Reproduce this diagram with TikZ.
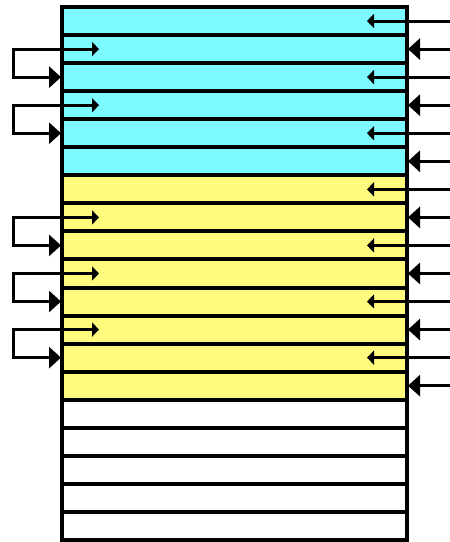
\documentclass[tikz,border=0pt]{standalone}
\usetikzlibrary{arrows.meta}
\definecolor{cellblue}{RGB}{125,250,255}
\definecolor{cellyellow}{RGB}{255,252,125}
\tikzset{
  rowbox/.style={draw=black, line width=4pt, minimum width=345pt, minimum height=28.05pt,
    inner sep=0pt, outer sep=0pt, anchor=north west},
  feedin/.style={line width=3pt, arrows={-Triangle[length=7pt,width=14pt]}},
  feedbig/.style={line width=3pt, arrows={-Triangle[length=12pt,width=21pt]}, shorten >=1pt},
  loopback/.style={line width=3pt, arrows={Triangle[length=7pt,width=14pt]-Triangle[length=12pt,width=21pt]}, shorten >=1pt}
}
\begin{document}
\begin{tikzpicture}[x=1pt,y=-1pt]
  \useasboundingbox (0,0) rectangle (450,542);
  % stacked register rows
  \foreach \i in {1,...,19}{
    \pgfmathsetmacro{\top}{7+28.05*(\i-1)}
    \ifnum\i<7
      \node[rowbox, fill=cellblue] (r\i) at (62,\top) {};
    \else\ifnum\i<15
      \node[rowbox, fill=cellyellow] (r\i) at (62,\top) {};
    \else
      \node[rowbox, fill=white] (r\i) at (62,\top) {};
    \fi\fi
  }
  % inputs reaching into the rows on the right
  \foreach \i in {1,3,5,7,9,11,13}{
    \coordinate (s\i) at (450,{7+28.05*(\i-0.5)});
    \draw[feedin] (s\i) -- ([xshift=-40pt]r\i.east);
  }
  % inputs ending at the right edge
  \foreach \i in {2,4,6,8,10,12,14}{
    \coordinate (b\i) at (450,{7+28.05*(\i-0.5)});
    \draw[feedbig] (b\i) -- (r\i.east);
  }
  % loops on the left, from one row into the next
  \foreach \a/\b in {2/3,4/5,8/9,10/11,12/13}{
    \coordinate (k\a) at (13,{7+28.05*(\a-0.5)});
    \draw[loopback] ([xshift=37pt]r\a.west) -- (k\a) |- (r\b.west);
  }
\end{tikzpicture}
\end{document}
